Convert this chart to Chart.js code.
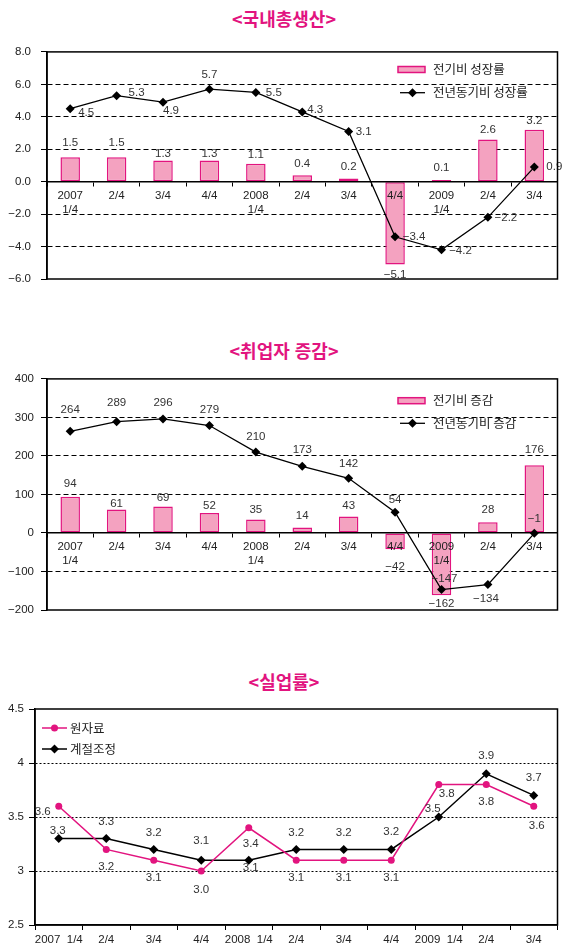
<!DOCTYPE html>
<html lang="ko">
<head>
  <meta charset="UTF-8" />
  <title>국내총생산 · 취업자 증감 · 실업률</title>
  <script src="https://cdn.jsdelivr.net/npm/chart.js@4.4.8/dist/chart.umd.min.js"></script>
  <style>
    body { margin: 0; background: #fff; }
    .page { position: relative; width: 562px; height: 950px; overflow: hidden; }
    .title {
      position: absolute; left: 0; width: 568px; text-align: center;
      font-family: 'Noto Sans CJK KR', sans-serif; font-weight: 700;
      font-size: 18px; line-height: 22px; color: #e2147f;
    }
    canvas { position: absolute; left: 0; }
  </style>
</head>
<body>
<div class="page">
  <div class="title" style="top:7px">&lt;국내총생산&gt;</div>
  <canvas id="gdpChart" width="562" height="275" style="top:35px"></canvas>
  <div class="title" style="top:339px">&lt;취업자 증감&gt;</div>
  <canvas id="jobChart" width="562" height="275" style="top:365px"></canvas>
  <div class="title" style="top:670px">&lt;실업률&gt;</div>
  <canvas id="unempChart" width="562" height="255" style="top:695px"></canvas>
</div>

<script>
  // 분기 라벨
  const quarters = [['2007', '1/4'], '2/4', '3/4', '4/4', ['2008', '1/4'], '2/4', '3/4', '4/4', ['2009', '1/4'], '2/4', '3/4'];
  const quartersFlat = ['2007  1/4', '2/4', '3/4', '4/4', '2008  1/4', '2/4', '3/4', '4/4', '2009  1/4', '2/4', '3/4'];

  // 국내총생산 (%)
  const gdpQoQ = [1.5, 1.5, 1.3, 1.3, 1.1, 0.4, 0.2, -5.1, 0.1, 2.6, 3.2];
  const gdpYoY = [4.5, 5.3, 4.9, 5.7, 5.5, 4.3, 3.1, -3.4, -4.2, -2.2, 0.9];

  // 취업자 증감 (천명)
  const jobsQoQ = [94, 61, 69, 52, 35, 14, 43, -42, -162, 28, 176];
  const jobsYoY = [264, 289, 296, 279, 210, 173, 142, 54, -147, -134, -1];

  // 실업률 (%)
  const unempRaw = [3.6, 3.2, 3.1, 3.0, 3.4, 3.1, 3.1, 3.1, 3.8, 3.8, 3.6];
  const unempSa = [3.3, 3.3, 3.2, 3.1, 3.1, 3.2, 3.2, 3.2, 3.5, 3.9, 3.7];

  // 수치 라벨 위치 (px)
  const gdpBarDy = [-15, -15, -7, -7, -9, -11, -12, 10, -12, -10, -9];
  const gdpLineDx = [16, 20, 8, 0, 18, 13, 15, 19, 19, 18, 20];
  const gdpLineDy = [4, -3, 9, -14, 0, -2, 0, 0, 1, 0, 0];
  const jobBarDy = [-13, -6, -9, -7, -10, -12, -11, 18, 8, -12, -15];
  const jobLineDx = [0, 0, 0, 0, 0, 0, 0, 0, 3, -2, 0];
  const jobLineDy = [-21, -19, -16, -16, -15, -17, -14, -12, -11, 14, -15];
  const rawDx = [-16, 0, 0, 0, 2, 0, 0, 0, 8, 0, 3];
  const rawDy = [6, 17, 18, 19, 16, 18, 18, 18, 9, 17, 20];
  const saDx = [-1, 0, 0, 0, 2, 0, 0, 0, -6, 0, 0];
  const saDy = [-8, -17, -17, -19, 8, -17, -17, -18, -8, -18, -18];

  const PINK = '#e2147f';
  const BAR_FILL = '#f4a2c0';
  const NUM_FONT = '11.5px "Liberation Sans", Arial, sans-serif';
  const KR_FONT = '12.5px "Noto Sans CJK KR", sans-serif';

  Chart.defaults.font.family = '"Liberation Sans", Arial, sans-serif';
  Chart.defaults.font.size = 11.5;
  Chart.defaults.color = '#222';
  Chart.defaults.animation = false;

  function fmtNum(v, digits) {
    return (v < 0 ? '\u2212' : '') + Math.abs(v).toFixed(digits);
  }

  function valueLabels(sets) {
    return {
      id: 'valueLabels',
      afterDatasetsDraw(chart) {
        const ctx = chart.ctx;
        ctx.save();
        ctx.font = NUM_FONT;
        ctx.fillStyle = '#333';
        ctx.textAlign = 'center';
        ctx.textBaseline = 'middle';
        sets.forEach(s => {
          const ds = chart.data.datasets[s.index];
          chart.getDatasetMeta(s.index).data.forEach((el, j) => {
            const dx = s.dx ? s.dx[j] : 0;
            ctx.fillText(fmtNum(ds.data[j], s.digits), el.x + dx, el.y + s.dy[j]);
          });
        });
        ctx.restore();
      }
    };
  }

  function drawMarker(ctx, style, x, y, r, color) {
    ctx.fillStyle = color;
    ctx.beginPath();
    if (style === 'circle') {
      ctx.arc(x, y, r, 0, Math.PI * 2);
    } else {
      ctx.moveTo(x, y - r); ctx.lineTo(x + r, y); ctx.lineTo(x, y + r); ctx.lineTo(x - r, y);
      ctx.closePath();
    }
    ctx.fill();
  }

  // 차트 안쪽 범례
  function innerLegend(items) {
    return {
      id: 'innerLegend',
      afterDraw(chart) {
        const ctx = chart.ctx;
        ctx.save();
        items.forEach(it => {
          const ds = chart.data.datasets[it.index];
          if (it.kind === 'box') {
            ctx.fillStyle = ds.backgroundColor;
            ctx.fillRect(it.x, it.y - 3, 27, 6);
            ctx.strokeStyle = ds.borderColor;
            ctx.lineWidth = 1.5;
            ctx.strokeRect(it.x, it.y - 3, 27, 6);
          } else {
            ctx.strokeStyle = ds.borderColor;
            ctx.lineWidth = ds.borderWidth;
            ctx.beginPath();
            ctx.moveTo(it.x, it.y); ctx.lineTo(it.x + 25, it.y);
            ctx.stroke();
            drawMarker(ctx, ds.pointStyle, it.x + 12.5, it.y, ds.pointRadius, ds.borderColor);
          }
          ctx.font = KR_FONT;
          ctx.fillStyle = '#222';
          ctx.textAlign = 'left';
          ctx.textBaseline = 'middle';
          ctx.fillText(it.label, it.textX, it.y);
        });
        ctx.restore();
      }
    };
  }

  const frame = {
    id: 'frame',
    afterDraw(chart) {
      const a = chart.chartArea;
      const ctx = chart.ctx;
      ctx.save();
      ctx.strokeStyle = '#000';
      ctx.lineWidth = 1.5;
      ctx.strokeRect(a.left, a.top, a.right - a.left, a.bottom - a.top);
      ctx.restore();
    }
  };

  function comboChart(id, opts) {
    return new Chart(document.getElementById(id), {
      type: 'bar',
      data: {
        labels: quarters,
        datasets: [
          {
            type: 'bar', label: opts.barLabel, data: opts.bars, order: 1,
            backgroundColor: BAR_FILL, borderColor: PINK, borderWidth: 1.5, borderSkipped: false,
            barPercentage: 0.42, categoryPercentage: 1
          },
          {
            type: 'line', label: opts.lineLabel, data: opts.line, order: 0,
            borderColor: '#000', backgroundColor: '#000', borderWidth: 1.3,
            pointStyle: 'rectRot', pointRadius: 4.5, pointBackgroundColor: '#000', pointBorderWidth: 0
          }
        ]
      },
      options: {
        responsive: false,
        layout: { padding: opts.padding },
        plugins: { legend: { display: false }, tooltip: { enabled: false } },
        scales: {
          x: {
            position: { y: 0 },
            grid: { drawOnChartArea: false, offset: true, tickLength: 4, tickColor: '#000', z: 1 },
            border: { color: '#000', width: 1.5, z: 1 },
            ticks: { padding: 3, color: '#222', maxRotation: 0, autoSkip: false, z: 1 }
          },
          y: {
            min: opts.min, max: opts.max,
            afterFit(s) { s.width = 47; },
            grid: {
              color: c => (c.tick && (c.tick.value === opts.min || c.tick.value === opts.max || c.tick.value === 0)) ? 'rgba(0,0,0,0)' : '#000',
              tickColor: '#000', tickLength: 6, lineWidth: 1
            },
            border: { color: '#000', width: 1.5, dash: [5, 3] },
            ticks: { stepSize: opts.step, padding: opts.tickPad, color: '#222', callback: v => fmtNum(v, opts.digits) }
          }
        }
      },
      plugins: [
        frame,
        valueLabels([
          { index: 0, digits: opts.digits, dy: opts.barDy },
          { index: 1, digits: opts.digits, dx: opts.lineDx, dy: opts.lineDy }
        ]),
        innerLegend([
          { index: 0, kind: 'box', label: opts.barLabel, x: 398, y: opts.legendY[0], textX: 433 },
          { index: 1, kind: 'line', label: opts.lineLabel, x: 400, y: opts.legendY[1], textX: 433 }
        ])
      ]
    });
  }

  comboChart('gdpChart', {
    bars: gdpQoQ, line: gdpYoY, barLabel: '전기비 성장률', lineLabel: '전년동기비 성장률',
    min: -6, max: 8, step: 2, digits: 1, tickPad: 10,
    padding: { top: 12, bottom: 31, left: 0, right: 2 },
    barDy: gdpBarDy, lineDx: gdpLineDx, lineDy: gdpLineDy, legendY: [34.5, 57.7]
  });

  comboChart('jobChart', {
    bars: jobsQoQ, line: jobsYoY, barLabel: '전기비 증감', lineLabel: '전년동기비 증감',
    min: -200, max: 400, step: 100, digits: 0, tickPad: 7,
    padding: { top: 13, bottom: 30, left: 0, right: 2 },
    barDy: jobBarDy, lineDx: jobLineDx, lineDy: jobLineDy, legendY: [35.7, 58.3]
  });

  // 실업률
  new Chart(document.getElementById('unempChart'), {
    type: 'line',
    data: {
      labels: quartersFlat,
      datasets: [
        {
          label: '원자료', data: unempRaw,
          borderColor: PINK, backgroundColor: PINK, borderWidth: 1.5,
          pointStyle: 'circle', pointRadius: 3.5, pointBackgroundColor: PINK, pointBorderWidth: 0
        },
        {
          label: '계절조정', data: unempSa,
          borderColor: '#000', backgroundColor: '#000', borderWidth: 1.5,
          pointStyle: 'rectRot', pointRadius: 4.5, pointBackgroundColor: '#000', pointBorderWidth: 0
        }
      ]
    },
    options: {
      responsive: false,
      layout: { padding: { top: 14, bottom: 0, left: 0, right: 2 } },
      plugins: { legend: { display: false }, tooltip: { enabled: false } },
      scales: {
        x: {
          offset: true,
          afterFit(s) { s.height = 25; },
          grid: { drawOnChartArea: false, offset: true, tickLength: 5, tickColor: '#000' },
          border: { color: '#000', width: 1.5 },
          ticks: { padding: 3, color: '#222', maxRotation: 0, autoSkip: false }
        },
        y: {
          min: 2.5, max: 4.5,
          afterFit(s) { s.width = 35; },
          grid: {
            color: c => (c.tick && (c.tick.value === 2.5 || c.tick.value === 4.5)) ? 'rgba(0,0,0,0)' : '#000',
            tickColor: '#000', tickLength: 6, lineWidth: 1
          },
          border: { color: '#000', width: 1.5, dash: [2, 2] },
          ticks: { stepSize: 0.5, padding: 5, color: '#222', callback: v => String(v) }
        }
      }
    },
    plugins: [
      frame,
      valueLabels([
        { index: 0, digits: 1, dx: rawDx, dy: rawDy },
        { index: 1, digits: 1, dx: saDx, dy: saDy }
      ]),
      innerLegend([
        { index: 0, kind: 'line', label: '원자료', x: 42, y: 33, textX: 70 },
        { index: 1, kind: 'line', label: '계절조정', x: 42, y: 54, textX: 70 }
      ])
    ]
  });
</script>
</body>
</html>
